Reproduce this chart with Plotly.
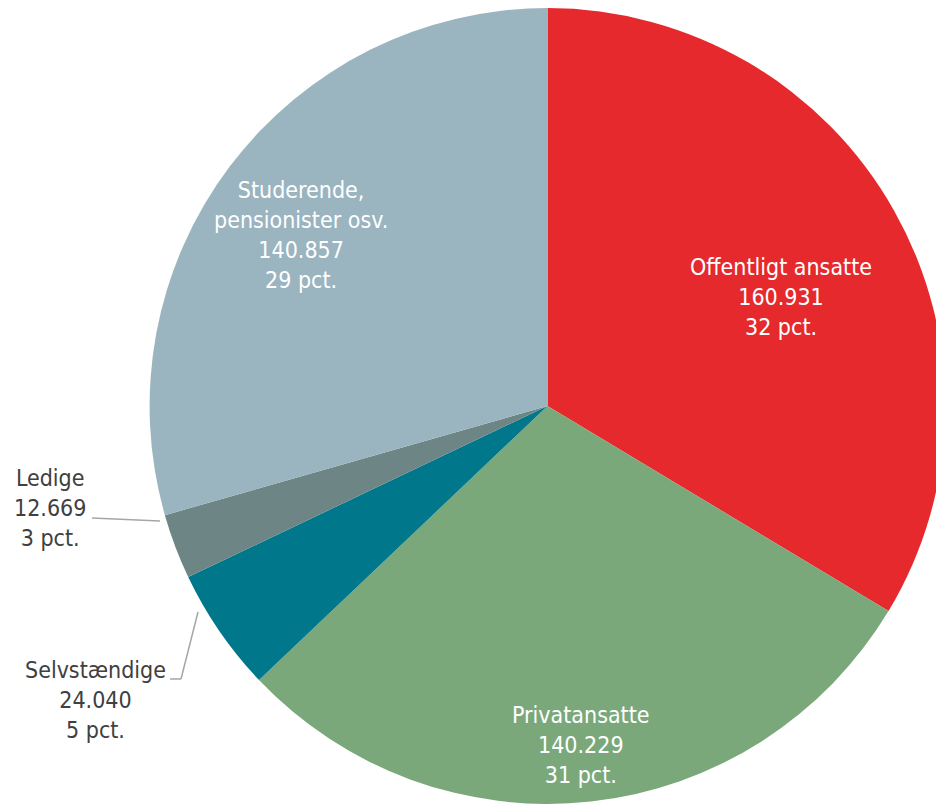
import plotly.graph_objects as go

W, H = 944, 796   # figure size; page body margin of 8px surrounds it
OFF = 8           # page body margin offset compensation

labels = ["Offentligt ansatte", "Privatansatte", "Selvstændige", "Ledige", "Studerende,<br>pensionister osv."]
values = [160931, 140229, 24040, 12669, 140857]
value_text = ["160.931", "140.229", "24.040", "12.669", "140.857"]
pct_text = ["32 pct.", "31 pct.", "5 pct.", "3 pct.", "29 pct."]
colors = ["#E5292D", "#7AA87B", "#00778A", "#6D8685", "#9AB4C0"]

# label anchor positions in page pixels (centre of text block) and font colours
label_px = [(781, 297), (581, 745), (95, 700), (50, 508), (301, 235)]
label_col = ["white", "white", "#404040", "#404040", "white"]

FONT = "DejaVu Sans Condensed, DejaVu Sans, sans-serif"

fig = go.Figure(go.Pie(
    labels=labels, values=values, sort=False, direction="clockwise",
    marker=dict(colors=colors, line=dict(width=0)),
    textinfo="none", hoverinfo="label+value",
    domain=dict(x=[0.150, 0.993], y=[0.0, 1.0]),
    showlegend=False,
))

def px(x, y):
    return (x - OFF) / W, 1 - (y - OFF) / H

for lab, v, p, (x, y), c in zip(labels, value_text, pct_text, label_px, label_col):
    ax, ay = px(x, y)
    fig.add_annotation(x=ax, y=ay, xref="paper", yref="paper",
                       text=f"{lab}<br>{v}<br>{p}", showarrow=False,
                       font=dict(family=FONT, size=23, color=c),
                       align="center", xanchor="center", yanchor="middle")

# leader lines
lines = [
    [(92, 518), (160, 521)],
    [(170, 679), (181, 679), (198, 612)],
]
for pts in lines:
    for (x0, y0), (x1, y1) in zip(pts[:-1], pts[1:]):
        a0, b0 = px(x0, y0)
        a1, b1 = px(x1, y1)
        fig.add_shape(type="line", xref="paper", yref="paper",
                      x0=a0, y0=b0, x1=a1, y1=b1,
                      line=dict(color="#A6A6A6", width=1.5))

fig.update_layout(width=W, height=H, margin=dict(l=0, r=0, t=0, b=0),
                  paper_bgcolor="white", plot_bgcolor="white")
fig.write_html("out.html")
